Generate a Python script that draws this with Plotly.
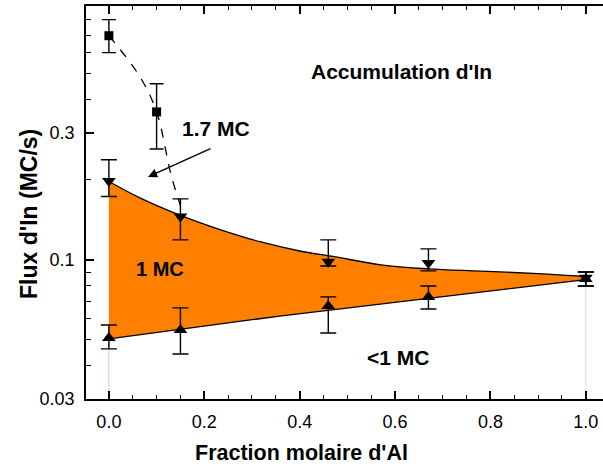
import numpy as np
import plotly.graph_objects as go

# ---- data ----
x_pts = [0.0, 0.15, 0.46, 0.67, 1.0]
flux_max = [0.198, 0.1455, 0.0983, 0.0974, 0.0856]          # down triangles
flux_max_plus = [0.040, 0.024, 0.0206, 0.0126, 0.0045]
flux_max_minus = [0.025, 0.0266, 0.0034, 0.0065, 0.0058]
flux_min = [0.0509, 0.0545, 0.0671, 0.0726, 0.0848]         # up triangles
flux_min_plus = [0.006, 0.0115, 0.0055, 0.0072, 0.0053]
flux_min_minus = [0.0046, 0.0102, 0.014, 0.0072, 0.005]

x_sq = [0.0, 0.1]
flux_sq = [0.696, 0.360]                                     # squares (1.7 MC)
flux_sq_plus = [0.104, 0.099]
flux_sq_minus = [0.095, 0.099]

guide_x = [0.0, 0.065, 0.1, 0.13, 0.15]                      # dashed guide curve
guide_y = [0.696, 0.488, 0.360, 0.210, 0.160]

upper_x = [0.0, 0.065, 0.15, 0.233, 0.317, 0.40, 0.47, 0.57, 0.67, 0.78, 0.90, 1.0]
upper_y = [0.197, 0.171, 0.147, 0.130, 0.117, 0.108, 0.103, 0.0958, 0.0925, 0.0907, 0.0888, 0.0866]
lower_x = [0.0, 0.358, 1.0]
lower_y = [0.0505, 0.0615, 0.0843]

x_ticks = [0.0, 0.2, 0.4, 0.6, 0.8, 1.0]
x_ticklabels = ["0.0", "0.2", "0.4", "0.6", "0.8", "1.0"]
y_ticks = [0.03, 0.1, 0.3]
y_ticklabels = ["0.03", "0.1", "0.3"]
y_minor = [0.04, 0.05, 0.06, 0.07, 0.08, 0.09, 0.2, 0.4, 0.5, 0.6, 0.7, 0.8, 0.9]

y_min, y_max = 0.03, 0.9
x_min, x_max = -0.048, 1.036

FONT = "Liberation Sans, Arial, sans-serif"
ORANGE = "rgb(255,128,0)"

fig = go.Figure()

# faint vertical edges of filled region
fig.add_trace(go.Scatter(x=[x_pts[0], x_pts[0]], y=[lower_y[0], y_min], mode="lines",
                         line=dict(color="rgba(235,190,160,0.9)", width=1), hoverinfo="skip"))
fig.add_trace(go.Scatter(x=[x_pts[-1], x_pts[-1]], y=[flux_max[-1] - flux_max_minus[-1], y_min], mode="lines",
                         line=dict(color="rgba(190,190,190,0.6)", width=1), hoverinfo="skip"))

# filled band
fig.add_trace(go.Scatter(x=lower_x, y=lower_y, mode="lines",
                         line=dict(color="black", width=1.3), hoverinfo="skip"))
fig.add_trace(go.Scatter(x=upper_x, y=upper_y, mode="lines", fill="tonexty",
                         fillcolor=ORANGE, line=dict(color="black", width=1.3, shape="spline"),
                         hoverinfo="skip"))

# dashed guide
fig.add_trace(go.Scatter(x=guide_x, y=guide_y, mode="lines",
                         line=dict(color="black", width=1.3, dash="dash", shape="spline")))

err_style = dict(color="black", thickness=1.4)
fig.add_trace(go.Scatter(x=x_sq, y=flux_sq, mode="markers",
                         marker=dict(symbol="square", size=9, color="black"),
                         error_y=dict(type="data", symmetric=False, array=flux_sq_plus,
                                      arrayminus=flux_sq_minus, width=7, **err_style)))
fig.add_trace(go.Scatter(x=x_pts, y=flux_max, mode="markers",
                         marker=dict(symbol="triangle-down", size=12, color="black"),
                         error_y=dict(type="data", symmetric=False, array=flux_max_plus,
                                      arrayminus=flux_max_minus, width=8, **err_style)))
fig.add_trace(go.Scatter(x=x_pts, y=flux_min, mode="markers",
                         marker=dict(symbol="triangle-up", size=12, color="black"),
                         error_y=dict(type="data", symmetric=False, array=flux_min_plus,
                                      arrayminus=flux_min_minus, width=8, **err_style)))

lab_font = dict(family=FONT, size=21, color="black", weight="bold")
fig.add_annotation(x=0.614, y=np.log10(0.51), text="Accumulation d'In", showarrow=False, font=lab_font)
fig.add_annotation(x=0.225, y=np.log10(0.312), text="1.7 MC", showarrow=False, font=lab_font)
fig.add_annotation(x=0.107, y=np.log10(0.0925), text="1 MC", showarrow=False,
                   font=dict(family=FONT, size=20, color="black", weight="bold"))
fig.add_annotation(x=0.606, y=np.log10(0.043), text="&lt;1 MC", showarrow=False, font=lab_font)
fig.add_annotation(x=0.082, y=np.log10(0.205), text="", showarrow=True, ax=64, ay=-29,
                   arrowhead=2, arrowsize=1.3, arrowwidth=1.4, arrowcolor="black")

title_font = dict(family=FONT, size=21.5, color="black", weight="bold")
fig.add_annotation(xref="paper", yref="paper", x=0.416, y=-0.137, text="Fraction molaire d'Al",
                   showarrow=False, font=title_font, xanchor="center", yanchor="middle")
fig.add_annotation(xref="paper", yref="paper", x=-0.110, y=0.471, text="Flux d'In (MC/s)",
                   showarrow=False, font=dict(family=FONT, size=23, color="black", weight="bold"),
                   textangle=-90, xanchor="center", yanchor="middle")

fig.update_layout(
    width=603, height=468,
    margin=dict(l=86, r=0, t=6, b=69),
    paper_bgcolor="white", plot_bgcolor="white",
    showlegend=False,
    font=dict(family=FONT, size=18, color="black"),
)
fig.update_xaxes(range=[x_min, x_max], showgrid=False, zeroline=False,
                 showline=True, linecolor="black", linewidth=1.5, mirror="ticks",
                 ticks="inside", ticklen=8, tickwidth=1.5, tickcolor="black",
                 tickmode="array", tickvals=x_ticks, ticktext=x_ticklabels,
                 ticklabelstandoff=6,
                 minor=dict(ticks="inside", ticklen=4, tickwidth=1.2, tickcolor="black", dtick=0.05, tick0=0))
fig.update_yaxes(type="log", range=[np.log10(y_min), np.log10(y_max)], showgrid=False, zeroline=False,
                 showline=True, linecolor="black", linewidth=1.5, mirror=False,
                 ticks="inside", ticklen=8, tickwidth=1.5, tickcolor="black",
                 tickmode="array", tickvals=y_ticks, ticktext=y_ticklabels,
                 ticklabelstandoff=6,
                 minor=dict(ticks="inside", ticklen=5, tickwidth=1.2, tickcolor="black",
                            tickmode="array", tickvals=y_minor))

fig.write_html("out.html", config={"displayModeBar": False},
               post_script="document.body.style.margin='0px';")
